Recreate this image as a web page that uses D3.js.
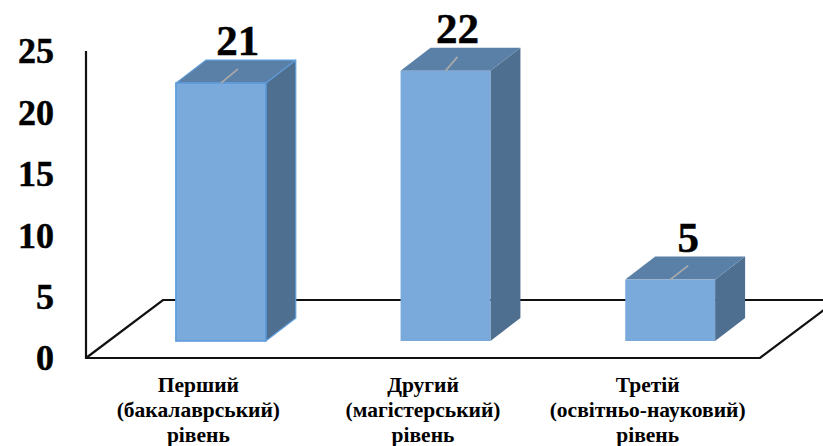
<!DOCTYPE html>
<html>
<head>
<meta charset="utf-8">
<script src="https://cdnjs.cloudflare.com/ajax/libs/d3/7.8.5/d3.min.js"></script>
<style>
  html, body { margin: 0; padding: 0; background: #fff; overflow: hidden; }
  text { font-family: "Liberation Serif", serif; font-weight: bold; fill: #000; }
</style>
</head>
<body>
<script>
var categories = ["first", "second", "third"]
var categoryLabels = [
  ["Перший", "(бакалаврський)", "рівень"],
  ["Другий", "(магістерський)", "рівень"],
  ["Третій", "(освітньо-науковий)", "рівень"]
]
var values = [21, 22, 5]
var yTicks = [0, 5, 10, 15, 20, 25]

var barStrokes = ["#5f9ddc", "none", "none"]  // only the first bar is outlined
var labelDx = [17, 12, 18]                    // leader line and value label offset

var width = 823,
    height = 446,
    depthX = 30,      // oblique depth of a bar
    depthY = 23,
    floorX = 77,      // oblique depth of the floor
    floorY = 58,
    frontX = 22.5,    // bars stand a little behind the front edge
    frontY = 17

var svg = d3.select("body")
    .append("svg")
    .attr("width", width)
    .attr("height", height)
    .style("display", "block")

var y = d3.scaleLinear()
    .domain([0, 25])
    .range([358, 51])

// front edge of the floor
var x = d3.scaleBand()
    .domain(categories)
    .range([86, 760])

var barX = d3.scaleBand()
    .domain(categories)
    .range([86 + frontX, 760 + frontX])
    .paddingInner(0.6)
    .paddingOuter(0.3)

var x0 = x.range()[0], x1 = x.range()[1], y0 = y(0)

// floor
svg.append("path")
    .attr("d", "M" + x0 + "," + y(25) + "V" + y0 + "H" + x1 + "L" + (x1 + floorX) + "," + (y0 - floorY) +
      "H" + (x0 + floorX) + "L" + x0 + "," + y0)
    .attr("fill", "none")
    .attr("stroke", "#111")
    .attr("stroke-width", 2.2)

// bars
var bar = svg.selectAll(".bar")
    .data(values)
    .enter().append("g")
    .attr("class", "bar")

function left(d, i) { return barX(categories[i]) }
function right(d, i) { return barX(categories[i]) + barX.bandwidth() }
function top_(d) { return y(d) - frontY }
var bottom = y0 - frontY

// side
bar.append("path")
    .attr("d", function(d, i) {
      var r = right(d, i)
      return "M" + r + "," + top_(d) + "L" + (r + depthX) + "," + (top_(d) - depthY) +
        "V" + (bottom - depthY) + "L" + r + "," + bottom + "Z"
    })
    .attr("fill", "#4e6f90")
    .attr("stroke", function(d, i) { return barStrokes[i] })
    .attr("stroke-width", 1.2)
    .attr("stroke-linejoin", "round")

// top
bar.append("path")
    .attr("d", function(d, i) {
      var l = left(d, i), r = right(d, i), t = top_(d)
      return "M" + l + "," + t + "L" + (l + depthX) + "," + (t - depthY) +
        "H" + (r + depthX) + "L" + r + "," + t + "Z"
    })
    .attr("fill", "#5b80a8")
    .attr("stroke", function(d, i) { return barStrokes[i] })
    .attr("stroke-width", 1.2)
    .attr("stroke-linejoin", "round")

// front
bar.append("rect")
    .attr("x", left)
    .attr("y", top_)
    .attr("width", barX.bandwidth())
    .attr("height", function(d) { return bottom - top_(d) })
    .attr("fill", "#7aa9db")
    .attr("stroke", function(d, i) { return barStrokes[i] })
    .attr("stroke-width", 1.6)

// leader line to the value label
bar.append("line")
    .attr("x1", function(d, i) { return left(d, i) + barX.bandwidth() / 2 })
    .attr("y1", top_)
    .attr("x2", function(d, i) { return left(d, i) + barX.bandwidth() / 2 + labelDx[i] })
    .attr("y2", function(d) { return top_(d) - 14 })
    .attr("stroke", "#a9a9a9")
    .attr("stroke-width", 1.8)

// value labels
bar.append("text")
    .attr("x", function(d, i) { return left(d, i) + barX.bandwidth() / 2 + labelDx[i] })
    .attr("y", function(d) { return top_(d) - 28 })
    .attr("text-anchor", "middle")
    .style("font-size", "43px")
    .style("stroke", "#000")
    .style("stroke-width", "0.5px")
    .text(function(d) { return d })

// y axis labels
var yAxis = svg.append("g")
    .attr("transform", "translate(54,0)")
    .call(d3.axisLeft(y).tickValues(yTicks).tickSize(0).tickPadding(0))
yAxis.select(".domain").remove()
yAxis.selectAll("text")
    .attr("dy", ".33em")
    .style("font-size", "36px")
    .style("font-family", "'Liberation Serif', serif")
    .style("stroke", "#000")
    .style("stroke-width", "0.5px")

// category labels
var xAxis = svg.append("g")
    .attr("transform", "translate(0,392)")
    .call(d3.axisBottom(x).tickSize(0).tickPadding(0).tickFormat(""))
xAxis.select(".domain").remove()
xAxis.selectAll(".tick text")
    .attr("y", 0)
    .attr("dy", 0)
    .style("font-size", "21.5px")
    .style("font-family", "'Liberation Serif', serif")
    .each(function(d, i) {
      d3.select(this).selectAll("tspan")
        .data(categoryLabels[i])
        .enter().append("tspan")
        .attr("x", 0)
        .attr("y", function(t, j) { return j * 25 })
        .text(function(t) { return t })
    })
</script>
</body>
</html>
